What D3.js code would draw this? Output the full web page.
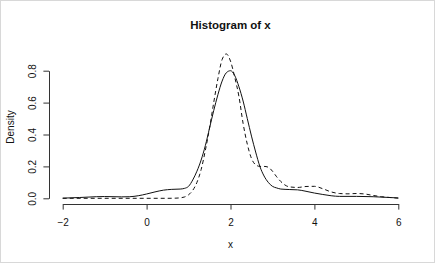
<!DOCTYPE html>
<html>
<head>
<meta charset="utf-8">
<title>Histogram of x</title>
<script src="https://d3js.org/d3.v7.min.js"></script>
<style>
  body { margin: 0; background: #fff; }
  text { font-family: "Liberation Sans", Arial, sans-serif; }
</style>
</head>
<body>
<div id="chart"></div>
<script>
// solid density curve
const xSolid = [-2, -1.6, -1.2, -1.0, -0.6, -0.4, -0.2, 0, 0.2, 0.4, 0.6, 0.8, 0.9,
  1.0, 1.1, 1.2, 1.3, 1.4, 1.5, 1.6, 1.7, 1.8, 1.9, 2.0, 2.1, 2.2, 2.3, 2.4, 2.5,
  2.6, 2.7, 2.8, 2.9, 3.0, 3.1, 3.2, 3.4, 3.6, 3.8, 4.0, 4.2, 4.4, 4.6, 5.0, 5.4, 5.8, 6.0];
const dSolid = [0.001, 0.005, 0.01, 0.011, 0.009, 0.01, 0.016, 0.027, 0.04, 0.051, 0.056, 0.058, 0.062,
  0.075, 0.115, 0.17, 0.24, 0.33, 0.44, 0.55, 0.65, 0.735, 0.787, 0.80, 0.77, 0.70, 0.61, 0.50, 0.39,
  0.29, 0.20, 0.14, 0.10, 0.075, 0.065, 0.058, 0.055, 0.053, 0.044, 0.033, 0.024, 0.016, 0.012, 0.012, 0.01, 0.005, 0.002];

// dashed density curve
const xDashed = [-2, -1, 0, 0.5, 0.7, 0.8, 0.9, 1.0, 1.1, 1.2, 1.3, 1.4, 1.5, 1.6, 1.7, 1.8, 1.9,
  2.0, 2.1, 2.2, 2.3, 2.4, 2.5, 2.6, 2.7, 2.8, 2.9, 3.0, 3.1, 3.2, 3.3, 3.4, 3.6, 3.8, 4.0,
  4.2, 4.4, 4.6, 4.8, 5.0, 5.2, 5.4, 5.6, 5.8, 6.0];
const dDashed = [0, 0, 0, 0, 0.001, 0.003, 0.008, 0.022, 0.05, 0.10, 0.18, 0.30, 0.44, 0.60, 0.75, 0.87, 0.905,
  0.86, 0.76, 0.64, 0.47, 0.34, 0.25, 0.21, 0.20, 0.20, 0.195, 0.17, 0.135, 0.105, 0.083, 0.072, 0.068, 0.074, 0.075,
  0.06, 0.04, 0.03, 0.028, 0.03, 0.027, 0.018, 0.01, 0.005, 0.001];

const xTicks = [-2, 0, 2, 4, 6];
const yTicks = [0, 0.2, 0.4, 0.6, 0.8];

const W = 436, H = 264;

const svg = d3.select("#chart").append("svg")
    .attr("width", W)
    .attr("height", H);

svg.append("rect")
    .attr("x", 0.5).attr("y", 0.5)
    .attr("width", W - 2).attr("height", H - 2)
    .attr("fill", "#fff")
    .attr("stroke", "#d8d8d8");

let x = d3.scaleLinear().domain([-2, 6]).range([62.7, 398.3]);
let y = d3.scaleLinear().domain([0, 0.8]).range([198.3, 70.7]);

let line = d3.line()
    .x(function(d){ return x(d[0]); })
    .y(function(d){ return y(d[1]); })
    .curve(d3.curveMonotoneX);

svg.append("path")
    .datum(d3.zip(xSolid, dSolid))
    .attr("d", line)
    .attr("fill", "none")
    .attr("stroke", "#111")
    .attr("stroke-width", 1);

svg.append("path")
    .datum(d3.zip(xDashed, dDashed))
    .attr("d", line)
    .attr("fill", "none")
    .attr("stroke", "#111")
    .attr("stroke-width", 1)
    .attr("stroke-dasharray", "4,3");

// axes
let xAxis = svg.append("g")
    .attr("transform", "translate(0,204)")
    .call(d3.axisBottom(x).tickValues(xTicks).tickSize(5.6).tickSizeOuter(0).tickPadding(0)
        .tickFormat(d3.format("d")));
xAxis.selectAll("path, line").attr("stroke", "#333");
xAxis.selectAll("text")
    .attr("y", 21.7).attr("dy", 0)
    .attr("font-size", "10px")
    .attr("font-family", "Liberation Sans, Arial, sans-serif")
    .attr("fill", "#111");

let yAxis = svg.append("g")
    .attr("transform", "translate(49,0)")
    .call(d3.axisLeft(y).tickValues(yTicks).tickSize(5.6).tickSizeOuter(0)
        .tickFormat(d3.format(".1f")));
yAxis.selectAll("path, line").attr("stroke", "#333");
yAxis.selectAll("text")
    .attr("transform", "rotate(-90)")
    .attr("x", 0).attr("y", -13.5).attr("dy", 0)
    .style("text-anchor", "middle")
    .attr("font-size", "10px")
    .attr("font-family", "Liberation Sans, Arial, sans-serif")
    .attr("fill", "#111");

// titles
svg.append("text")
    .attr("x", 230.5).attr("y", 28.5)
    .style("text-anchor", "middle")
    .attr("font-size", "11.5px")
    .attr("font-weight", "bold")
    .attr("fill", "#111")
    .text("Histogram of x");

svg.append("text")
    .attr("x", 230.5).attr("y", 248)
    .style("text-anchor", "middle")
    .attr("font-size", "10px")
    .attr("fill", "#111")
    .text("x");

svg.append("text")
    .attr("transform", "translate(13.5,127) rotate(-90)")
    .style("text-anchor", "middle")
    .attr("font-size", "10px")
    .attr("fill", "#111")
    .text("Density");
</script>
</body>
</html>
